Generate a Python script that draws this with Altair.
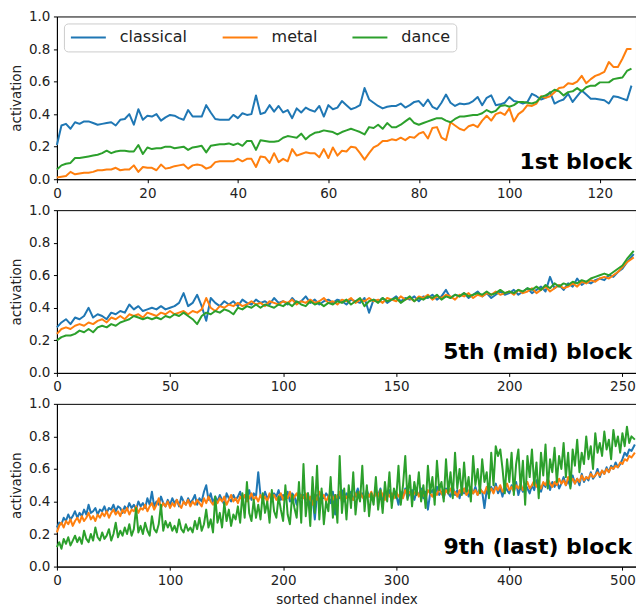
import altair as alt
import pandas as pd

GENRES = ["classical", "metal", "dance"]
COLORS = ["#1f77b4", "#ff7f0e", "#2ca02c"]
Y_TICKS = [0.0, 0.2, 0.4, 0.6, 0.8, 1.0]

# ---------------- panel 1: 1st block (channels 0..127) ----------------
P1_X = list(range(128))
P1_CLASSICAL = [
    0.21, 0.33, 0.34, 0.31, 0.35, 0.34, 0.355, 0.355, 0.345, 0.335,
    0.34, 0.345, 0.35, 0.33, 0.365, 0.37, 0.40, 0.335, 0.43, 0.365,
    0.39, 0.385, 0.40, 0.36, 0.38, 0.395, 0.39, 0.375, 0.365, 0.425,
    0.385, 0.385, 0.385, 0.455, 0.41, 0.37, 0.365, 0.365, 0.365, 0.395,
    0.375, 0.405, 0.395, 0.40, 0.515, 0.40, 0.41, 0.455, 0.415, 0.45,
    0.41, 0.425, 0.375, 0.435, 0.41, 0.44, 0.425, 0.415, 0.45, 0.385,
    0.455, 0.43, 0.44, 0.48, 0.455, 0.43, 0.44, 0.455, 0.56, 0.49,
    0.47, 0.45, 0.435, 0.445, 0.45, 0.45, 0.465, 0.44, 0.455, 0.475,
    0.48, 0.45, 0.49, 0.445, 0.43, 0.47, 0.52, 0.47, 0.45, 0.465,
    0.46, 0.465, 0.48, 0.505, 0.455, 0.50, 0.515, 0.455, 0.46, 0.47,
    0.505, 0.48, 0.475, 0.465, 0.475, 0.525, 0.51, 0.49, 0.50, 0.535,
    0.465, 0.48, 0.49, 0.525, 0.475, 0.51, 0.545, 0.52, 0.495, 0.495,
    0.49, 0.485, 0.465, 0.51, 0.505, 0.495, 0.485, 0.575]
P1_METAL = [
    0.01, 0.015, 0.02, 0.045, 0.03, 0.035, 0.04, 0.04, 0.045, 0.055,
    0.055, 0.06, 0.06, 0.07, 0.055, 0.06, 0.06, 0.085, 0.045, 0.075,
    0.07, 0.07, 0.055, 0.09, 0.065, 0.07, 0.08, 0.085, 0.09, 0.065,
    0.085, 0.09, 0.085, 0.065, 0.075, 0.105, 0.11, 0.11, 0.11, 0.11,
    0.125, 0.11, 0.125, 0.125, 0.075, 0.14, 0.135, 0.10, 0.16, 0.105,
    0.125, 0.11, 0.185, 0.145, 0.155, 0.165, 0.16, 0.16, 0.135, 0.185,
    0.13, 0.195, 0.145, 0.175, 0.17, 0.20, 0.195, 0.16, 0.12, 0.16,
    0.195, 0.21, 0.235, 0.235, 0.245, 0.24, 0.255, 0.24, 0.26, 0.255,
    0.28, 0.29, 0.25, 0.315, 0.32, 0.255, 0.24, 0.35, 0.33, 0.31,
    0.30, 0.325, 0.335, 0.32, 0.36, 0.39, 0.36, 0.40, 0.41, 0.395,
    0.435, 0.355, 0.40, 0.42, 0.455, 0.45, 0.465, 0.51, 0.50, 0.51,
    0.535, 0.56, 0.565, 0.59, 0.585, 0.60, 0.635, 0.59, 0.615, 0.635,
    0.645, 0.66, 0.72, 0.69, 0.69, 0.74, 0.80, 0.80]
P1_DANCE = [
    0.06, 0.085, 0.095, 0.10, 0.13, 0.13, 0.135, 0.14, 0.145, 0.15,
    0.16, 0.175, 0.16, 0.17, 0.175, 0.175, 0.17, 0.17, 0.21, 0.155,
    0.195, 0.185, 0.19, 0.19, 0.20, 0.20, 0.19, 0.195, 0.20, 0.18,
    0.195, 0.20, 0.205, 0.165, 0.205, 0.21, 0.215, 0.215, 0.22, 0.21,
    0.22, 0.205, 0.235, 0.235, 0.18, 0.24, 0.235, 0.23, 0.23, 0.235,
    0.255, 0.265, 0.26, 0.255, 0.28, 0.245, 0.27, 0.285, 0.29, 0.30,
    0.295, 0.29, 0.275, 0.29, 0.30, 0.31, 0.30, 0.29, 0.275, 0.32,
    0.315, 0.335, 0.31, 0.345, 0.32, 0.32, 0.335, 0.355, 0.375, 0.345,
    0.335, 0.345, 0.355, 0.365, 0.375, 0.375, 0.36, 0.35, 0.37, 0.385,
    0.385, 0.39, 0.395, 0.395, 0.405, 0.425, 0.41, 0.42, 0.45, 0.455,
    0.445, 0.455, 0.475, 0.475, 0.47, 0.465, 0.475, 0.505, 0.515, 0.53,
    0.55, 0.54, 0.515, 0.535, 0.54, 0.56, 0.54, 0.565, 0.575, 0.575,
    0.595, 0.595, 0.595, 0.615, 0.62, 0.625, 0.665, 0.68]

# ---------------- panel 2: 5th (mid) block (channels 0..255, every 2nd read) ----------------
P2_X = list(range(0, 254, 2)) + [255]
P2_CLASSICAL = [
    0.28, 0.31, 0.33, 0.30, 0.34, 0.33, 0.35, 0.40, 0.34, 0.36, 0.35,
    0.33, 0.37, 0.36, 0.38, 0.37, 0.42, 0.39, 0.41, 0.38, 0.39,
    0.40, 0.39, 0.41, 0.39, 0.40, 0.41, 0.43, 0.49, 0.41, 0.43,
    0.48, 0.41, 0.32, 0.46, 0.43, 0.41, 0.44, 0.42, 0.44, 0.41,
    0.45, 0.43, 0.42, 0.45, 0.43, 0.44, 0.42, 0.46, 0.43, 0.44,
    0.42, 0.46, 0.43, 0.44, 0.47, 0.43, 0.45, 0.42, 0.44, 0.45,
    0.43, 0.45, 0.44, 0.42, 0.45, 0.44, 0.43, 0.46, 0.37, 0.45,
    0.44, 0.46, 0.43, 0.45, 0.47, 0.44, 0.46, 0.45, 0.47, 0.44,
    0.47, 0.46, 0.48, 0.45, 0.47, 0.51, 0.46, 0.48, 0.47, 0.49,
    0.46, 0.48, 0.50, 0.47, 0.49, 0.46, 0.48, 0.50, 0.48, 0.49,
    0.51, 0.48, 0.50, 0.52, 0.49, 0.51, 0.53, 0.50, 0.59, 0.52,
    0.54, 0.51, 0.55, 0.53, 0.58, 0.54, 0.56, 0.55, 0.57, 0.58,
    0.57, 0.60, 0.59, 0.62, 0.64, 0.68, 0.73]
P2_METAL = [
    0.24, 0.27, 0.28, 0.27, 0.29, 0.30, 0.29, 0.31, 0.30, 0.32, 0.33,
    0.31, 0.34, 0.33, 0.35, 0.33, 0.36, 0.35, 0.36, 0.34, 0.37,
    0.36, 0.35, 0.37, 0.36, 0.38, 0.36, 0.37, 0.38, 0.36, 0.38,
    0.37, 0.39, 0.46, 0.40, 0.38, 0.41, 0.40, 0.42, 0.41, 0.43,
    0.41, 0.42, 0.44, 0.42, 0.43, 0.41, 0.44, 0.43, 0.42, 0.44,
    0.43, 0.45, 0.42, 0.44, 0.43, 0.45, 0.43, 0.44, 0.46, 0.43,
    0.44, 0.42, 0.45, 0.44, 0.46, 0.43, 0.45, 0.44, 0.46, 0.44,
    0.45, 0.43, 0.46, 0.45, 0.44, 0.47, 0.45, 0.46, 0.44, 0.47,
    0.46, 0.48, 0.45, 0.47, 0.46, 0.48, 0.47, 0.45, 0.48, 0.47,
    0.49, 0.46, 0.48, 0.47, 0.49, 0.48, 0.50, 0.48, 0.49, 0.50,
    0.48, 0.51, 0.49, 0.50, 0.52, 0.49, 0.51, 0.53, 0.50, 0.52,
    0.54, 0.52, 0.53, 0.55, 0.53, 0.56, 0.55, 0.57, 0.56, 0.58,
    0.59, 0.58, 0.60, 0.62, 0.65, 0.68, 0.71]
P2_DANCE = [
    0.20, 0.22, 0.23, 0.23, 0.24, 0.26, 0.25, 0.27, 0.25, 0.28, 0.29,
    0.28, 0.30, 0.29, 0.31, 0.32, 0.33, 0.35, 0.34, 0.33, 0.34,
    0.33, 0.34, 0.33, 0.35, 0.34, 0.36, 0.35, 0.37, 0.35, 0.33,
    0.30, 0.35, 0.37, 0.36, 0.38, 0.37, 0.39, 0.38, 0.36, 0.40,
    0.39, 0.41, 0.40, 0.42, 0.40, 0.42, 0.41, 0.40, 0.42, 0.41,
    0.43, 0.41, 0.44, 0.42, 0.41, 0.44, 0.42, 0.43, 0.41, 0.43,
    0.42, 0.44, 0.43, 0.45, 0.42, 0.44, 0.46, 0.41, 0.44, 0.45,
    0.43, 0.46, 0.44, 0.45, 0.46, 0.43, 0.45, 0.47, 0.44, 0.46,
    0.45, 0.47, 0.46, 0.48, 0.45, 0.47, 0.46, 0.48, 0.47, 0.49,
    0.47, 0.48, 0.49, 0.48, 0.50, 0.48, 0.49, 0.51, 0.49, 0.50,
    0.49, 0.51, 0.50, 0.52, 0.51, 0.53, 0.51, 0.54, 0.52, 0.55,
    0.53, 0.55, 0.54, 0.56, 0.55, 0.57, 0.56, 0.58, 0.59, 0.60,
    0.61, 0.60, 0.62, 0.64, 0.66, 0.70, 0.75]

# ---------------- panel 3: 9th (last) block (channels 0..511, every 2nd read) ----------------
P3_X = list(range(0, 510, 2)) + [511]
P3_CLASSICAL = [
    0.24, 0.27, 0.26, 0.30, 0.28, 0.32, 0.29, 0.31, 0.34, 0.30,
    0.33, 0.31, 0.35, 0.32, 0.38, 0.33, 0.34, 0.36, 0.32, 0.35,
    0.34, 0.37, 0.33, 0.36, 0.35, 0.38, 0.34, 0.37, 0.36, 0.33,
    0.37, 0.35, 0.39, 0.36, 0.38, 0.35, 0.40, 0.37, 0.39, 0.36,
    0.42, 0.38, 0.46, 0.37, 0.40, 0.38, 0.43, 0.39, 0.37, 0.41,
    0.38, 0.42, 0.39, 0.41, 0.37, 0.43, 0.40, 0.38, 0.42, 0.39,
    0.41, 0.44, 0.38, 0.42, 0.40, 0.46, 0.50, 0.41, 0.45, 0.39,
    0.43, 0.40, 0.44, 0.41, 0.38, 0.45, 0.42, 0.40, 0.44, 0.41,
    0.43, 0.46, 0.40, 0.44, 0.42, 0.47, 0.41, 0.45, 0.43, 0.58,
    0.44, 0.41, 0.46, 0.42, 0.44, 0.40, 0.45, 0.43, 0.47, 0.41,
    0.44, 0.42, 0.46, 0.40, 0.45, 0.43, 0.38, 0.46, 0.42, 0.44,
    0.41, 0.45, 0.36, 0.43, 0.29, 0.44, 0.40, 0.46, 0.42, 0.45,
    0.43, 0.39, 0.46, 0.32, 0.44, 0.42, 0.47, 0.40, 0.45, 0.43,
    0.46, 0.41, 0.44, 0.48, 0.42, 0.45, 0.40, 0.47, 0.43, 0.45,
    0.42, 0.46, 0.44, 0.48, 0.41, 0.45, 0.43, 0.47, 0.40, 0.46,
    0.44, 0.38, 0.46, 0.43, 0.48, 0.42, 0.45, 0.47, 0.41, 0.46,
    0.44, 0.48, 0.42, 0.46, 0.35, 0.45, 0.47, 0.43, 0.49, 0.44,
    0.46, 0.42, 0.48, 0.45, 0.43, 0.49, 0.44, 0.47, 0.42, 0.48,
    0.45, 0.50, 0.43, 0.47, 0.45, 0.49, 0.44, 0.48, 0.46, 0.36,
    0.47, 0.44, 0.49, 0.46, 0.51, 0.45, 0.48, 0.43, 0.50, 0.47,
    0.45, 0.50, 0.47, 0.52, 0.44, 0.49, 0.46, 0.51, 0.48, 0.45,
    0.50, 0.47, 0.53, 0.48, 0.46, 0.51, 0.49, 0.54, 0.47, 0.52,
    0.49, 0.53, 0.48, 0.51, 0.55, 0.50, 0.53, 0.49, 0.56, 0.51,
    0.54, 0.50, 0.57, 0.52, 0.55, 0.53, 0.58, 0.54, 0.56, 0.60,
    0.55, 0.59, 0.57, 0.61, 0.58, 0.62, 0.60, 0.64, 0.61, 0.63,
    0.66, 0.70, 0.68, 0.72, 0.71, 0.75]
P3_METAL = [
    0.21, 0.25, 0.27, 0.24, 0.28, 0.26, 0.29, 0.25, 0.28, 0.30,
    0.27, 0.31, 0.28, 0.30, 0.33, 0.29, 0.31, 0.28, 0.32, 0.30,
    0.33, 0.31, 0.34, 0.30, 0.33, 0.35, 0.32, 0.34, 0.31, 0.35,
    0.33, 0.36, 0.32, 0.35, 0.34, 0.37, 0.33, 0.36, 0.35, 0.38,
    0.34, 0.37, 0.39, 0.35, 0.38, 0.42, 0.36, 0.39, 0.37, 0.40,
    0.36, 0.39, 0.37, 0.41, 0.38, 0.36, 0.40, 0.38, 0.41, 0.37,
    0.40, 0.38, 0.41, 0.39, 0.37, 0.42, 0.39, 0.43, 0.40, 0.38,
    0.41, 0.39, 0.42, 0.40, 0.43, 0.38, 0.41, 0.44, 0.40, 0.42,
    0.39, 0.43, 0.41, 0.44, 0.40, 0.42, 0.45, 0.41, 0.43, 0.40,
    0.44, 0.41, 0.43, 0.40, 0.45, 0.42, 0.44, 0.41, 0.43, 0.45,
    0.41, 0.44, 0.42, 0.46, 0.40, 0.43, 0.45, 0.41, 0.44, 0.42,
    0.45, 0.40, 0.43, 0.38, 0.44, 0.41, 0.46, 0.42, 0.44, 0.40,
    0.43, 0.45, 0.41, 0.44, 0.42, 0.46, 0.40, 0.44, 0.42, 0.45,
    0.43, 0.41, 0.45, 0.42, 0.46, 0.43, 0.41, 0.45, 0.43, 0.46,
    0.42, 0.45, 0.43, 0.47, 0.44, 0.41, 0.46, 0.43, 0.45, 0.42,
    0.46, 0.43, 0.45, 0.42, 0.47, 0.44, 0.46, 0.43, 0.45, 0.47,
    0.43, 0.46, 0.44, 0.42, 0.47, 0.45, 0.43, 0.46, 0.44, 0.48,
    0.45, 0.43, 0.47, 0.45, 0.48, 0.44, 0.46, 0.43, 0.47, 0.45,
    0.48, 0.44, 0.46, 0.49, 0.45, 0.47, 0.44, 0.48, 0.46, 0.45,
    0.49, 0.46, 0.48, 0.45, 0.49, 0.47, 0.50, 0.46, 0.48, 0.51,
    0.47, 0.49, 0.46, 0.50, 0.48, 0.51, 0.47, 0.49, 0.52, 0.48,
    0.50, 0.53, 0.49, 0.51, 0.48, 0.52, 0.50, 0.54, 0.51, 0.49,
    0.52, 0.50, 0.54, 0.51, 0.53, 0.50, 0.55, 0.52, 0.54, 0.51,
    0.54, 0.52, 0.56, 0.53, 0.55, 0.54, 0.57, 0.55, 0.56, 0.58,
    0.56, 0.59, 0.57, 0.60, 0.58, 0.61, 0.60, 0.62, 0.61, 0.64,
    0.63, 0.66, 0.65, 0.68, 0.67, 0.70]
P3_DANCE = [
    0.12, 0.15, 0.11, 0.17, 0.14, 0.18, 0.13, 0.16, 0.19, 0.15,
    0.18, 0.14, 0.22, 0.17, 0.15, 0.20, 0.16, 0.24, 0.18, 0.16,
    0.21, 0.17, 0.19, 0.23, 0.16, 0.20, 0.27, 0.18, 0.22, 0.19,
    0.24, 0.20, 0.26, 0.19, 0.23, 0.36, 0.21, 0.25, 0.20, 0.27,
    0.22, 0.19, 0.31, 0.23, 0.21, 0.26, 0.38, 0.22, 0.28, 0.24,
    0.27, 0.22, 0.25, 0.21, 0.29, 0.23, 0.21, 0.26, 0.22, 0.24,
    0.21, 0.28, 0.23, 0.30, 0.22, 0.26, 0.35, 0.24, 0.29, 0.21,
    0.43, 0.27, 0.33, 0.24, 0.39, 0.28, 0.35, 0.25, 0.32, 0.29,
    0.37, 0.27, 0.45, 0.30, 0.52, 0.33, 0.28, 0.41, 0.30, 0.38,
    0.29, 0.45, 0.33, 0.40, 0.27, 0.47, 0.34, 0.30, 0.43, 0.35,
    0.28, 0.50, 0.32, 0.26, 0.44, 0.36, 0.30, 0.52, 0.27, 0.63,
    0.31, 0.45, 0.25, 0.55, 0.33, 0.62, 0.29, 0.48, 0.26, 0.40,
    0.34, 0.55, 0.30, 0.44, 0.27, 0.68, 0.33, 0.48, 0.29, 0.50,
    0.36, 0.58, 0.32, 0.46, 0.40, 0.62, 0.34, 0.50, 0.31, 0.45,
    0.38, 0.55, 0.35, 0.47, 0.33, 0.52, 0.40, 0.58, 0.36, 0.48,
    0.42, 0.62, 0.38, 0.50, 0.68, 0.41, 0.56, 0.37, 0.52, 0.44,
    0.58, 0.40, 0.50, 0.36, 0.62, 0.45, 0.55, 0.38, 0.65, 0.47,
    0.52, 0.40, 0.66, 0.45, 0.58, 0.42, 0.70, 0.48, 0.60, 0.44,
    0.64, 0.46, 0.55, 0.40, 0.68, 0.50, 0.60, 0.45, 0.66, 0.52,
    0.58, 0.42, 0.70, 0.50, 0.74, 0.68, 0.72, 0.60, 0.45, 0.66,
    0.52, 0.70, 0.44, 0.63, 0.72, 0.48, 0.65, 0.38, 0.68, 0.55,
    0.72, 0.50, 0.64, 0.42, 0.70, 0.56, 0.75, 0.48, 0.66, 0.58,
    0.73, 0.52, 0.68, 0.60, 0.76, 0.55, 0.70, 0.48, 0.72, 0.62,
    0.78, 0.58, 0.70, 0.63, 0.80, 0.66, 0.74, 0.60, 0.82, 0.70,
    0.76, 0.68, 0.83, 0.72, 0.78, 0.66, 0.84, 0.74, 0.80, 0.70,
    0.82, 0.74, 0.86, 0.76, 0.80, 0.78]

PANELS = [
    dict(x=P1_X, series=[P1_CLASSICAL, P1_METAL, P1_DANCE], xmax=128,
         ticks=[0, 20, 40, 60, 80, 100, 120], label="1st block", dy=-10),
    dict(x=P2_X, series=[P2_CLASSICAL, P2_METAL, P2_DANCE], xmax=256,
         ticks=[0, 50, 100, 150, 200, 250], label="5th (mid) block", dy=-14),
    dict(x=P3_X, series=[P3_CLASSICAL, P3_METAL, P3_DANCE], xmax=512,
         ticks=[0, 100, 200, 300, 400, 500], label="9th (last) block", dy=-13),
]

W, H = 580, 163
FONT = "DejaVu Sans"


def make_panel(i, p):
    rows = []
    for g, vals in zip(GENRES, p["series"]):
        assert len(vals) == len(p["x"]), (i, g, len(vals), len(p["x"]))
        for xv, v in zip(p["x"], vals):
            rows.append({"channel": xv, "activation": v, "genre": g})
    df = pd.DataFrame(rows)

    if i == 0:
        legend = alt.Legend(
            orient="top-left", direction="horizontal", title=None,
            symbolType="M-1.6,0H5.4", symbolSize=100, symbolStrokeWidth=2,
            symbolOffset=1,
            labelFont=FONT, labelFontSize=16, labelColor="#222",
            labelOffset=33, columnPadding=31, padding=6, offset=7,
            strokeColor="#cccccc", fillColor="rgba(255,255,255,0.85)", cornerRadius=4,
        )
    else:
        legend = None

    x_axis = alt.Axis(
        values=p["ticks"], title="sorted channel index" if i == 2 else None,
        format="d", labelFlush=False, labelOverlap=False, grid=False,
    )
    y_axis = alt.Axis(values=Y_TICKS, format=".1f", title="activation",
                      labelFlush=False, labelOverlap=False, grid=False)
    x_scale = alt.Scale(domain=[0, p["xmax"]], nice=False, zero=False)
    y_scale = alt.Scale(domain=[0, 1], nice=False)

    layers = []
    for g in GENRES:
        layers.append(
            alt.Chart(df)
            .transform_filter(alt.datum.genre == g)
            .mark_line(strokeWidth=2, strokeJoin="round")
            .encode(
                x=alt.X("channel:Q", scale=x_scale, axis=x_axis),
                y=alt.Y("activation:Q", scale=y_scale, axis=y_axis),
                color=alt.Color("genre:N", scale=alt.Scale(domain=GENRES, range=COLORS), legend=legend),
            )
        )
    text = (
        alt.Chart(pd.DataFrame({"k": [0]}))
        .mark_text(text=p["label"], font=FONT, fontSize=22, fontWeight="bold",
                   align="right", baseline="alphabetic", dx=-4, dy=p["dy"], color="black")
        .encode(
            x=alt.XDatum(p["xmax"], type="quantitative", scale=x_scale, axis=x_axis),
            y=alt.YDatum(0, type="quantitative", scale=y_scale, axis=y_axis),
        )
    )
    return alt.layer(*layers, text).properties(width=W, height=H)


charts = [make_panel(i, p) for i, p in enumerate(PANELS)]

chart = (
    alt.vconcat(*charts, spacing=31, bounds="flush")
    .resolve_scale(x="independent", y="independent", color="independent")
    .resolve_legend(color="independent")
    .properties(padding={"left": 1, "top": 0, "right": -1, "bottom": 0})
    .configure(font=FONT)
    .configure_view(stroke="black", strokeWidth=1)
    .configure_axis(
        domainColor="black", tickColor="black", labelColor="#222", titleColor="#222",
        labelFont=FONT, titleFont=FONT, labelFontSize=13.5, titleFontSize=13.5,
        titleFontWeight="normal", tickSize=3.5, labelPadding=3.5, titlePadding=5,
        labelOverlap=False,
    )
)

chart.save("out.html", embed_options={"renderer": "svg", "actions": False})
